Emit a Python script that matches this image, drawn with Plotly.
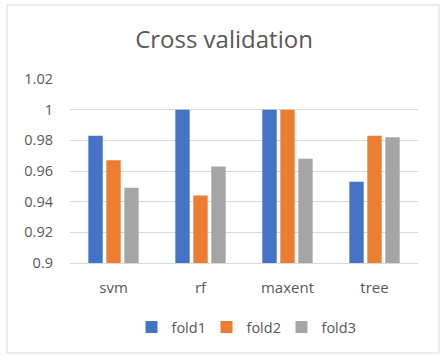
import plotly.graph_objects as go

categories = ["svm", "rf", "maxent", "tree"]
fold1 = [0.983, 1.0, 1.0, 0.953]
fold2 = [0.967, 0.944, 1.0, 0.983]
fold3 = [0.949, 0.963, 0.968, 0.982]
series_names = ["fold1", "fold2", "fold3"]
colors = ["#4472C4", "#ED7D31", "#A5A5A5"]

W, H = 448, 356
L, R, T, B = 70, 30, 79, 93
pw, ph = W - L - R, H - T - B

def px_x(x):
    return (x - L) / pw

def px_y(y):
    return 1 - (y - T) / ph

fig = go.Figure()
for name, vals, c in zip(series_names, [fold1, fold2, fold3], colors):
    fig.add_trace(go.Bar(x=categories, y=vals, name=name, marker=dict(color=c, line=dict(width=0))))

font = "Open Sans, Liberation Sans, Arial, sans-serif"
fig.update_layout(
    width=W, height=H,
    margin=dict(l=L, r=R, t=T, b=B),
    paper_bgcolor="white", plot_bgcolor="white",
    barmode="group", bargap=0.38, bargroupgap=0.2,
    title=dict(text="Cross validation", x=0.5, xanchor="center", y=1 - 40 / H, yanchor="middle",
               font=dict(family=font, size=24, color="#595959")),
    font=dict(family=font, size=14, color="#595959"),
    xaxis=dict(showline=True, linecolor="#D9D9D9", linewidth=1, ticks="", showgrid=False,
               ticklabelstandoff=11, tickfont=dict(size=15, color="#595959")),
    yaxis=dict(range=[0.9, 1.02], tickvals=[0.9, 0.92, 0.94, 0.96, 0.98, 1.0, 1.02],
               ticktext=["0.9", "0.92", "0.94", "0.96", "0.98", "1", "1.02"],
               showgrid=True, gridcolor="#D9D9D9", gridwidth=1, zeroline=False, ticks="",
               showline=False, ticklabelstandoff=16, tickfont=dict(size=14.5, color="#595959")),
    legend=dict(orientation="h", x=0.5, xanchor="center", y=px_y(327), yanchor="middle",
                font=dict(size=14.5, color="#595959"), itemwidth=30, entrywidth=30,
                entrywidthmode="pixels", traceorder="normal"),
    shapes=[dict(type="rect", xref="paper", yref="paper",
                 x0=px_x(7), x1=px_x(439), y0=px_y(353), y1=px_y(5),
                 line=dict(color="#D9D9D9", width=1), fillcolor="rgba(0,0,0,0)", layer="below")],
)
fig.write_html("out.html")
